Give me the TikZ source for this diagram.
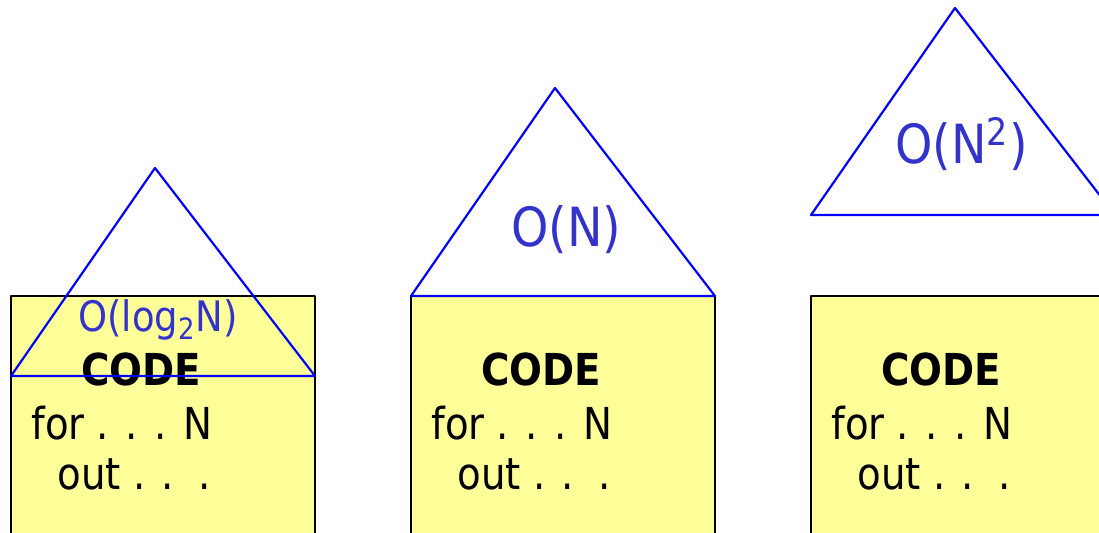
\documentclass[tikz,border=0pt]{standalone}
\usepackage{fontspec}
\setmainfont[FakeStretch=0.88]{DejaVu Sans}
\begin{document}
\begin{tikzpicture}[x=0.5pt,y=-0.5pt,line cap=round,line join=round]
  \definecolor{boxfill}{HTML}{FFFF99}
  \definecolor{ordblue}{HTML}{3333CC}
  \tikzset{codebox/.style={draw=black,fill=boxfill,line width=1.1pt},
    tri/.style={draw=blue,line width=1.1pt},
    codetxt/.style={anchor=base west,inner sep=0pt,font=\fontsize{22}{26}\selectfont},
    ordtxt/.style={anchor=base west,inner sep=0pt,text=ordblue,font=\fontsize{27}{32}\selectfont}}
  \useasboundingbox (0,0) rectangle (1099,533);
  \clip (0,0) rectangle (1099,533);
  % boxes
  \draw[codebox] (11,296) rectangle (315,560);
  \draw[codebox] (411,296) rectangle (715,560);
  \draw[codebox] (811,296) rectangle (1115,560);
  % box texts
  \node[codetxt,font=\fontsize{22}{26}\selectfont\bfseries] (code1) at (81,386) {CODE};
  \node[codetxt] (for1) at (31,440) {for . . . N};
  \node[codetxt] (out1) at (57,490) {out . .\ \ .};
  \node[codetxt,font=\fontsize{22}{26}\selectfont\bfseries] (code2) at (481,386) {CODE};
  \node[codetxt] (for2) at (431,440) {for . . . N};
  \node[codetxt] (out2) at (457,490) {out . .\ \ .};
  \node[codetxt,font=\fontsize{22}{26}\selectfont\bfseries] (code3) at (881,386) {CODE};
  \node[codetxt] (for3) at (831,440) {for . . . N};
  \node[codetxt] (out3) at (857,490) {out . .\ \ .};
  % triangles
  \draw[tri] (11,376) -- (155,168) -- (315,376) -- cycle;
  \draw[tri] (411,296) -- (555,88) -- (715,296) -- cycle;
  \draw[tri] (811,215) -- (955,8) -- (1115,215) -- cycle;
  % orders
  \node[ordtxt,font=\fontsize{21}{24}\selectfont] (ord1) at (78,332) {O(log\textsubscript{2}N)};
  \node[ordtxt] (ord2) at (511,247) {O(N)};
  \node[ordtxt] (ord3) at (895,164) {O(N\textsuperscript{2})};
\end{tikzpicture}
\end{document}
